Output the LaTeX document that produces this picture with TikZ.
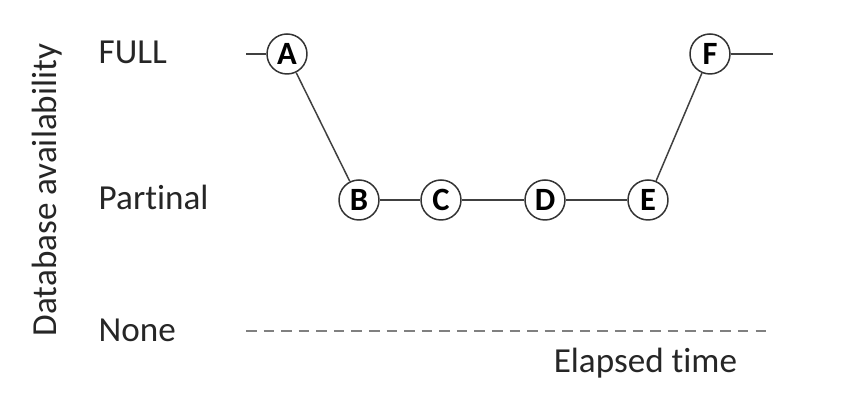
\documentclass[tikz,border=0pt]{standalone}
\usepackage{fontspec}
\setmainfont[Ligatures={NoCommon}]{Carlito}
\tikzset{
  % one pixel of the sketch is one unit, y runs downwards
  every picture/.append style = {line width=0.85pt},
  evt/.style   = {circle, draw=black!80, fill=white, minimum size=0.8cm,
                  inner sep=0pt, font=\fontsize{18.5}{18}\selectfont\bfseries},
  lvl/.style   = {anchor=base west, inner sep=0pt, text=black!85,
                  font=\fontsize{20}{20}\selectfont},
  link/.style  = {black!75},
  floor/.style = {black!50, dash pattern=on 6pt off 4pt, line width=0.6pt},
}
\begin{document}
\begin{tikzpicture}[x=0.02cm,y=-0.02cm]
  \useasboundingbox (0,0) rectangle (843,401);
  % axis text
  \node[lvl, anchor=center, rotate=90] (yaxis) at (47,190) {Database availability};
  \node[lvl] (full) at (98,64)  {FULL};
  \node[lvl] (part) at (98,210) {Partinal};
  \node[lvl] (none) at (98,342) {None};
  \node[lvl] (time) at (553,373) {Elapsed time};
  % the events
  \node[evt] (A) at (287,54)  {A};
  \node[evt] (B) at (359,200) {B};
  \node[evt] (C) at (441,200) {C};
  \node[evt] (D) at (545,200) {D};
  \node[evt] (E) at (648,200) {E};
  \node[evt] (F) at (710,54)  {F};
  \coordinate (start) at (246,54);
  \coordinate (stop)  at (773,54);
  % availability over time
  \draw[link] (start) -- (A);
  \draw[link] (A) -- (B);
  \draw[link] (B) -- (C);
  \draw[link] (C) -- (D);
  \draw[link] (D) -- (E);
  \draw[link] (E) -- (F);
  \draw[link] (F) -- (stop);
  % zero level
  \coordinate (zl) at (246,331);
  \coordinate (zr) at (766,331);
  \draw[floor] (zl) -- (zr);
\end{tikzpicture}
\end{document}
